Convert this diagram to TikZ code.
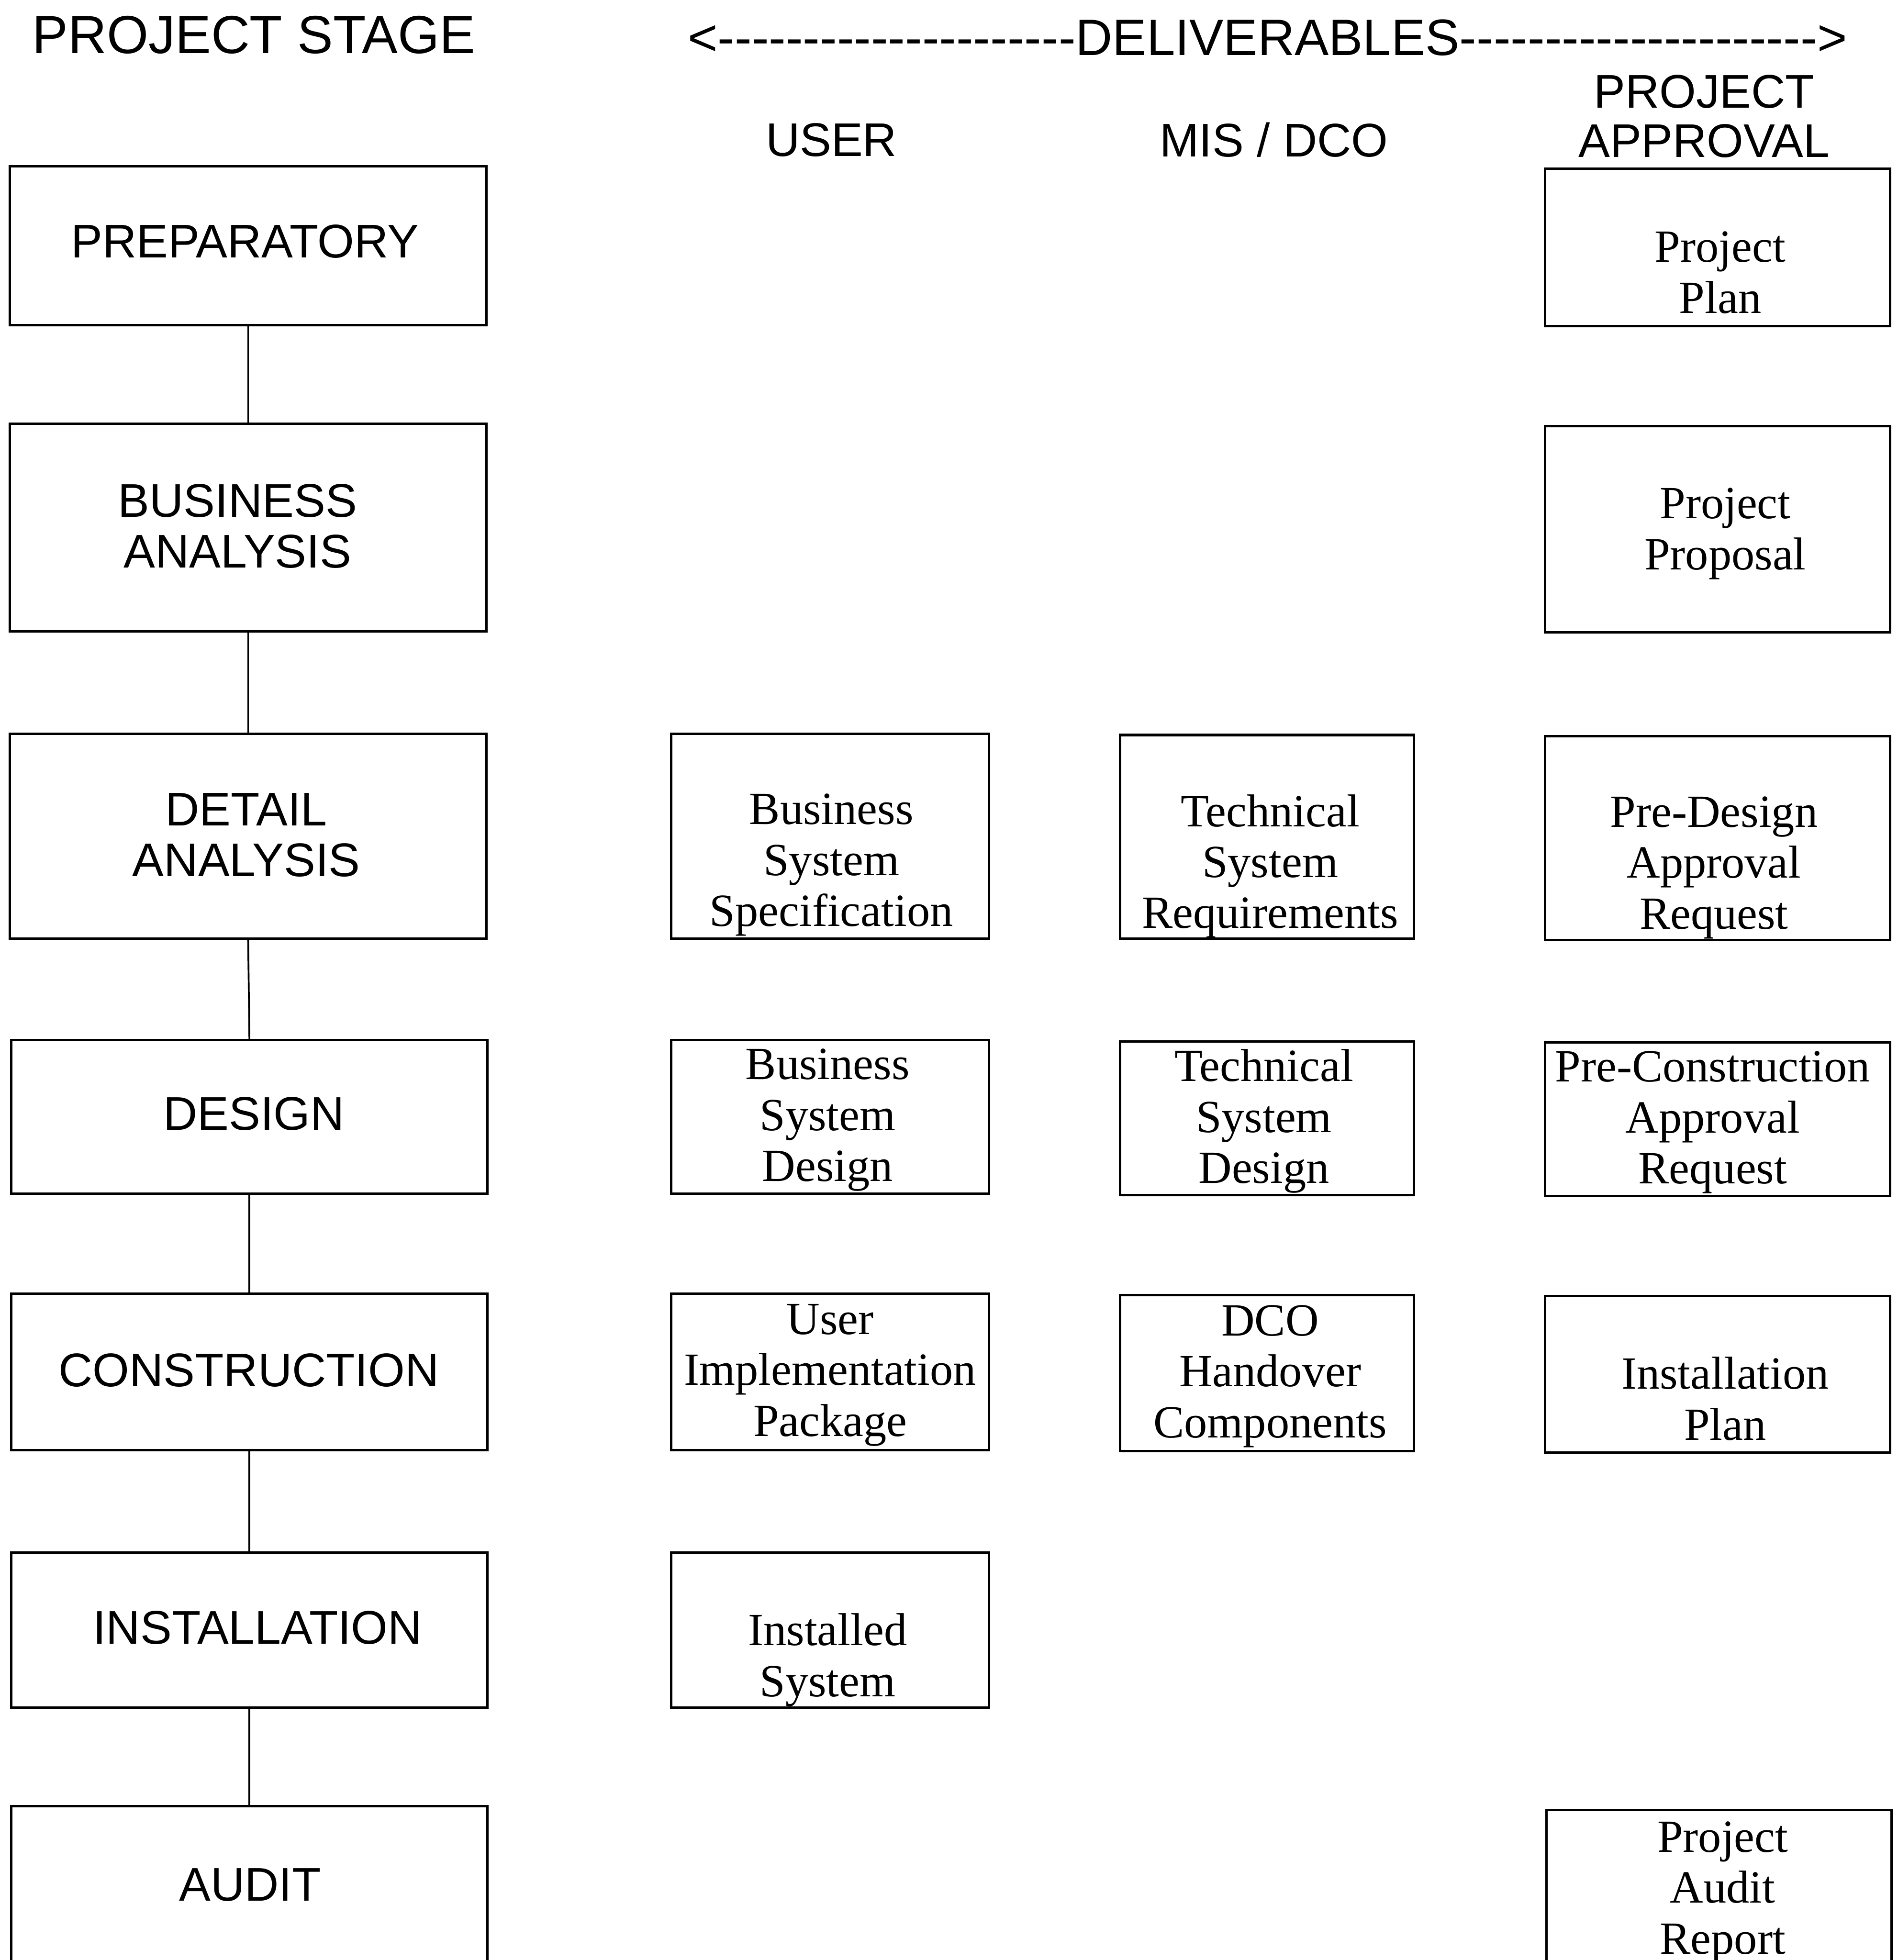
\documentclass[tikz,border=0pt]{standalone}
\usepackage{fontspec}
\usetikzlibrary{fit}
\newfontfamily\hv{Liberation Sans}
\newfontfamily\tm{Liberation Serif}
\newcommand\hyphrun[1]{\foreach \k in {1,...,#1}{-\kern0pt}}
\begin{document}
\begin{tikzpicture}[x=0.02cm,y=-0.02cm,
  box/.style={draw, line width=1.1pt, inner sep=0pt, rectangle},
  stagetext/.style={font=\hv\fontsize{21.5}{23.2}\selectfont, align=center, inner sep=0pt},
  deltext/.style={font=\tm\fontsize{21}{23.2}\selectfont, align=center, inner sep=0pt},
  headtext/.style={font=\hv\fontsize{21.5}{22.4}\selectfont, align=center, inner sep=0pt},
  link/.style={line width=0.8pt}]
\useasboundingbox (0,0) rectangle (1518,1568);
\clip (0,0) rectangle (1518,1568);

% headers
\node[font=\hv\fontsize{24.4}{26}\selectfont, inner sep=0pt] (hstage) at (203,28) {PROJECT STAGE};
\node[font=\hv\fontsize{23.3}{25}\selectfont, inner sep=0pt] (hdeliv) at (1014,30) {<\hyphrun{21}DELIVERABLES\hyphrun{21}>};
\node[headtext] (huser) at (665,112) {USER};
\node[headtext] (hmis) at (1019,112) {MIS / DCO};
\node[headtext] (happ) at (1363,93) {PROJECT\\APPROVAL};

% stage boxes
\node[box, fit={(8,133) (389,260)}] (prep) {};
\node[box, fit={(8,339) (389,505)}] (bana) {};
\node[box, fit={(8,587) (389,751)}] (dana) {};
\node[box, fit={(9,832) (390,955)}] (desg) {};
\node[box, fit={(9,1035) (390,1160)}] (cons) {};
\node[box, fit={(9,1242) (390,1366)}] (inst) {};
\node[box, fit={(9,1445) (390,1571)}] (audt) {};

\node[stagetext] (prept) at (196,193) {PREPARATORY};
\node[stagetext] (banat) at (190,421) {BUSINESS\\ANALYSIS};
\node[stagetext] (danat) at (197,668) {DETAIL\\ANALYSIS};
\node[stagetext] (desgt) at (203,891) {DESIGN};
\node[stagetext] (const) at (199,1096) {CONSTRUCTION};
\node[stagetext] (instt) at (206,1302) {INSTALLATION};
\node[stagetext] (audtt) at (200,1508) {AUDIT};

\draw[link] (prep.south) -- (bana.north);
\draw[link] (bana.south) -- (dana.north);
\draw[link] (dana.south) -- (desg.north);
\draw[link] (desg.south) -- (cons.north);
\draw[link] (cons.south) -- (inst.north);
\draw[link] (inst.south) -- (audt.north);

% user column
\node[box, fit={(537,587) (791,751)}] (bss) {};
\node[box, fit={(537,832) (791,955)}] (bsd) {};
\node[box, fit={(537,1035) (791,1160)}] (uip) {};
\node[box, fit={(537,1242) (791,1366)}] (isy) {};
\node[deltext] (bsst) at (665,692) {Business\\System\\Specification};
\node[deltext] (bsdt) at (662,896) {Business\\System\\Design};
\node[deltext] (uipt) at (664,1100) {User\\Implementation\\Package};
\node[deltext] (isyt) at (662,1328) {Installed\\System};

% MIS / DCO column
\node[box, fit={(896,588) (1131,751)}] (tsr) {};
\node[box, fit={(896,833) (1131,956)}] (tsd) {};
\node[box, fit={(896,1036) (1131,1161)}] (dco) {};
\node[deltext] (tsrt) at (1016,693) {Technical\\System\\Requirements};
\node[deltext] (tsdt) at (1011,897) {Technical\\System\\Design};
\node[deltext] (dcot) at (1016,1101) {DCO\\Handover\\Components};

% project approval column
\node[box, fit={(1236,135) (1512,261)}] (ppl) {};
\node[box, fit={(1236,341) (1512,506)}] (ppr) {};
\node[box, fit={(1236,589) (1512,752)}] (pdar) {};
\node[box, fit={(1236,834) (1512,957)}] (pcar) {};
\node[box, fit={(1236,1037) (1512,1162)}] (ipl) {};
\node[box, fit={(1237,1448) (1513,1574)}] (par) {};
\node[deltext] (pplt) at (1376,218) {Project\\Plan};
\node[deltext] (pprt) at (1380,427) {Project\\Proposal};
\node[deltext] (pdart) at (1371,694) {Pre-Design\\Approval\\Request};
\node[deltext] (pcart) at (1370,898) {Pre-Construction\\Approval\\Request};
\node[deltext] (iplt) at (1380,1119) {Installation\\Plan};
\node[deltext] (part) at (1378,1514) {Project\\Audit\\Report};
\end{tikzpicture}
\end{document}
